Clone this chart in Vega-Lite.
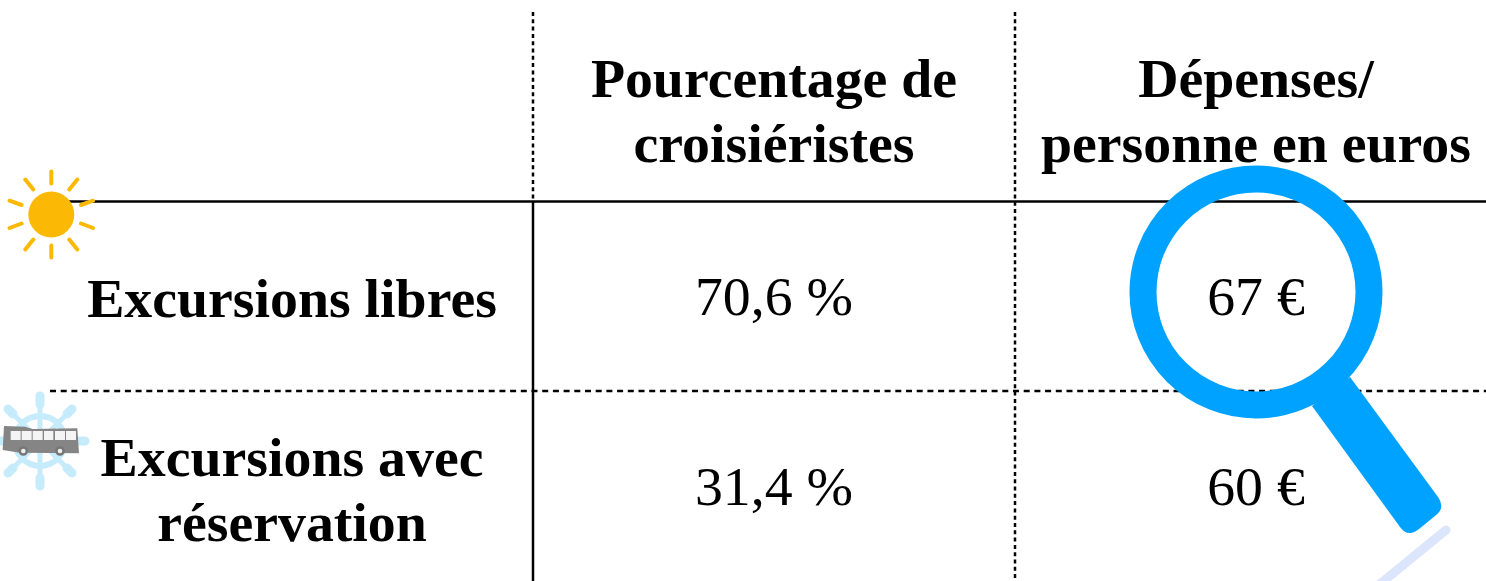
{"$schema":"https://vega.github.io/schema/vega-lite/v6.json","autosize":{"type":"none"},"width":1486,"height":581,"padding":0,"background":"white","config":{"view":{"stroke":null}},"resolve":{"scale":{"x":"independent","y":"independent"}},"datasets":{"table":[{"ligne":"Excursions libres","colonne":"Pourcentage de croisiéristes","valeur":"70,6 %"},{"ligne":"Excursions libres","colonne":"Dépenses/personne en euros","valeur":"67 €"},{"ligne":"Excursions avec réservation","colonne":"Pourcentage de croisiéristes","valeur":"31,4 %"},{"ligne":"Excursions avec réservation","colonne":"Dépenses/personne en euros","valeur":"60 €"}],"titres":[{"ligne":"En-tête","colonne":"Pourcentage de croisiéristes","titre":"Pourcentage de\ncroisiéristes"},{"ligne":"En-tête","colonne":"Dépenses/personne en euros","titre":"Dépenses/\npersonne en euros"},{"ligne":"Excursions avec réservation","colonne":"Libellé","titre":"Excursions avec\nréservation"}],"titre_simple":[{"ligne":"Excursions libres","colonne":"Libellé","titre":"Excursions libres"}],"decor":[{"element":"decor"}]},"data":{"name":"decor"},"layer":[
{"mark":{"type":"rule","stroke":"#000000","strokeWidth":2.5},"encoding":{"x":{"datum":60,"type":"quantitative","axis":null,"scale":{"domain":[0,1486],"nice":false,"zero":false}},"x2":{"datum":1486},"y":{"datum":201.5,"type":"quantitative","axis":null,"scale":{"domain":[0,581],"reverse":true,"nice":false,"zero":false}}}},
{"mark":{"type":"rule","stroke":"#000000","strokeWidth":2.5,"strokeDash":[6,4.7]},"encoding":{"x":{"datum":50,"type":"quantitative","axis":null,"scale":{"domain":[0,1486],"nice":false,"zero":false}},"x2":{"datum":1486},"y":{"datum":391,"type":"quantitative","axis":null,"scale":{"domain":[0,581],"reverse":true,"nice":false,"zero":false}}}},
{"mark":{"type":"rule","stroke":"#000000","strokeWidth":2.5,"strokeDash":[4,3.3]},"encoding":{"x":{"datum":533,"type":"quantitative","axis":null,"scale":{"domain":[0,1486],"nice":false,"zero":false}},"y":{"datum":12,"type":"quantitative","axis":null,"scale":{"domain":[0,581],"reverse":true,"nice":false,"zero":false}},"y2":{"datum":201}}},
{"mark":{"type":"rule","stroke":"#000000","strokeWidth":2.5},"encoding":{"x":{"datum":533,"type":"quantitative","axis":null,"scale":{"domain":[0,1486],"nice":false,"zero":false}},"y":{"datum":201,"type":"quantitative","axis":null,"scale":{"domain":[0,581],"reverse":true,"nice":false,"zero":false}},"y2":{"datum":581}}},
{"mark":{"type":"rule","stroke":"#000000","strokeWidth":2.5,"strokeDash":[4,3.3]},"encoding":{"x":{"datum":1015,"type":"quantitative","axis":null,"scale":{"domain":[0,1486],"nice":false,"zero":false}},"y":{"datum":12,"type":"quantitative","axis":null,"scale":{"domain":[0,581],"reverse":true,"nice":false,"zero":false}},"y2":{"datum":581}}},
{"mark":{"type":"rule","stroke":"#dbe5fb","strokeWidth":9,"strokeCap":"round"},"encoding":{"x":{"datum":1446,"type":"quantitative","axis":null,"scale":{"domain":[0,1486],"nice":false,"zero":false}},"x2":{"datum":1380},"y":{"datum":530,"type":"quantitative","axis":null,"scale":{"domain":[0,581],"reverse":true,"nice":false,"zero":false}},"y2":{"datum":584}}},
{"mark":{"type":"point","filled":false,"shape":"circle","stroke":"#00a2ff","strokeWidth":27,"size":51076,"opacity":1},"encoding":{"x":{"datum":1256,"type":"quantitative","axis":null,"scale":{"domain":[0,1486],"nice":false,"zero":false}},"y":{"datum":292,"type":"quantitative","axis":null,"scale":{"domain":[0,581],"reverse":true,"nice":false,"zero":false}}}},
{"mark":{"type":"point","filled":true,"shape":"M-28,-78L60,42Q68,53 57,61L41,74Q30,83 22,72L-66,-49Z","fill":"#00a2ff","size":4,"opacity":1},"encoding":{"x":{"datum":1378,"type":"quantitative","axis":null,"scale":{"domain":[0,1486],"nice":false,"zero":false}},"y":{"datum":455,"type":"quantitative","axis":null,"scale":{"domain":[0,581],"reverse":true,"nice":false,"zero":false}}}},
{"mark":{"type":"point","filled":false,"shape":"circle","stroke":"#c6ebfb","strokeWidth":6,"size":2500,"opacity":1},"encoding":{"x":{"datum":40,"type":"quantitative","axis":null,"scale":{"domain":[0,1486],"nice":false,"zero":false}},"y":{"datum":441,"type":"quantitative","axis":null,"scale":{"domain":[0,581],"reverse":true,"nice":false,"zero":false}}}},
{"mark":{"type":"point","filled":false,"shape":"M0,-46L0,46M-46,0L46,0M-33,-33L33,33M-33,33L33,-33","stroke":"#c6ebfb","strokeWidth":5,"strokeCap":"round","size":4,"opacity":1},"encoding":{"x":{"datum":40,"type":"quantitative","axis":null,"scale":{"domain":[0,1486],"nice":false,"zero":false}},"y":{"datum":441,"type":"quantitative","axis":null,"scale":{"domain":[0,581],"reverse":true,"nice":false,"zero":false}}}},
{"mark":{"type":"point","filled":false,"shape":"M0,-45L0,-37M0,45L0,37M-45,0L-37,0M45,0L37,0M-32,-32L-27,-27M32,32L27,27M-32,32L-27,27M32,-32L27,-27","stroke":"#c6ebfb","strokeWidth":9,"strokeCap":"round","size":4,"opacity":1},"encoding":{"x":{"datum":40,"type":"quantitative","axis":null,"scale":{"domain":[0,1486],"nice":false,"zero":false}},"y":{"datum":441,"type":"quantitative","axis":null,"scale":{"domain":[0,581],"reverse":true,"nice":false,"zero":false}}}},
{"mark":{"type":"point","filled":true,"shape":"M-108,-42L-45,-40L-22,-33L112,-35L117,40L-60,38L-112,30Z","fill":"#858585","size":0.4444,"opacity":1},"encoding":{"x":{"datum":40,"type":"quantitative","axis":null,"scale":{"domain":[0,1486],"nice":false,"zero":false}},"y":{"datum":440,"type":"quantitative","axis":null,"scale":{"domain":[0,581],"reverse":true,"nice":false,"zero":false}}}},
{"mark":{"type":"point","filled":true,"shape":"M-88,-27H-58V0H-88ZM-55,-27H-25V0H-55ZM-22,-27H8V0H-22ZM12,-27H40V0H12ZM45,-27H75V0H45ZM78,-27H108V0H78Z","fill":"#f4f4f4","size":0.4444,"opacity":1},"encoding":{"x":{"datum":40,"type":"quantitative","axis":null,"scale":{"domain":[0,1486],"nice":false,"zero":false}},"y":{"datum":440,"type":"quantitative","axis":null,"scale":{"domain":[0,581],"reverse":true,"nice":false,"zero":false}}}},
{"mark":{"type":"point","filled":true,"shape":"circle","fill":"#eeeeee","stroke":"#777777","strokeWidth":2.5,"size":50,"opacity":1},"encoding":{"x":{"datum":23.3,"type":"quantitative","axis":null,"scale":{"domain":[0,1486],"nice":false,"zero":false}},"y":{"datum":451,"type":"quantitative","axis":null,"scale":{"domain":[0,581],"reverse":true,"nice":false,"zero":false}}}},
{"mark":{"type":"point","filled":true,"shape":"circle","fill":"#eeeeee","stroke":"#777777","strokeWidth":2.5,"size":50,"opacity":1},"encoding":{"x":{"datum":60,"type":"quantitative","axis":null,"scale":{"domain":[0,1486],"nice":false,"zero":false}},"y":{"datum":451,"type":"quantitative","axis":null,"scale":{"domain":[0,581],"reverse":true,"nice":false,"zero":false}}}},
{"mark":{"type":"point","filled":true,"shape":"circle","fill":"#fbb906","size":2116,"opacity":1},"encoding":{"x":{"datum":51.3,"type":"quantitative","axis":null,"scale":{"domain":[0,1486],"nice":false,"zero":false}},"y":{"datum":214.5,"type":"quantitative","axis":null,"scale":{"domain":[0,581],"reverse":true,"nice":false,"zero":false}}}},
{"mark":{"type":"point","filled":false,"shape":"M0,-43L0,-31M0,31L0,43M26,-35L18,-25M18,25L26,35M-26,-35L-18,-25M-18,25L-26,35M29.7,-9.5L41.7,-13.8M29.7,9L41.7,13.5M-29.7,-9.5L-41.7,-13.8M-29.7,9L-41.7,13.5","stroke":"#fbb906","strokeWidth":4,"strokeCap":"round","size":4,"opacity":1},"encoding":{"x":{"datum":51.3,"type":"quantitative","axis":null,"scale":{"domain":[0,1486],"nice":false,"zero":false}},"y":{"datum":214.5,"type":"quantitative","axis":null,"scale":{"domain":[0,581],"reverse":true,"nice":false,"zero":false}}}},
{"data":{"name":"titres"},"mark":{"type":"text","font":"Liberation Serif","fontWeight":"bold","fontSize":55.8,"lineHeight":65,"lineBreak":"\n","baseline":"middle","align":"center","dy":-31,"color":"#000000"},"encoding":{"x":{"field":"colonne","type":"nominal","axis":null,"scale":{"type":"point","padding":0,"domain":["Libellé","Pourcentage de croisiéristes","Dépenses/personne en euros"],"range":[292,1256]}},"y":{"field":"ligne","type":"nominal","axis":null,"scale":{"type":"point","padding":0,"domain":["En-tête","Excursions libres","Excursions avec réservation"],"range":[111,490]}},"text":{"field":"titre","type":"nominal"}}},
{"data":{"name":"titre_simple"},"mark":{"type":"text","font":"Liberation Serif","fontWeight":"bold","fontSize":55.8,"baseline":"middle","align":"center","color":"#000000"},"encoding":{"x":{"field":"colonne","type":"nominal","axis":null,"scale":{"type":"point","padding":0,"domain":["Libellé","Pourcentage de croisiéristes","Dépenses/personne en euros"],"range":[292,1256]}},"y":{"field":"ligne","type":"nominal","axis":null,"scale":{"type":"point","padding":0,"domain":["En-tête","Excursions libres","Excursions avec réservation"],"range":[110,490]}},"text":{"field":"titre","type":"nominal"}}},
{"data":{"name":"table"},"mark":{"type":"text","font":"Liberation Serif","fontSize":55.8,"baseline":"middle","align":"center","color":"#000000"},"encoding":{"x":{"field":"colonne","type":"nominal","axis":null,"scale":{"type":"point","padding":0,"domain":["Libellé","Pourcentage de croisiéristes","Dépenses/personne en euros"],"range":[292,1256]}},"y":{"field":"ligne","type":"nominal","axis":null,"scale":{"type":"point","padding":0,"domain":["En-tête","Excursions libres","Excursions avec réservation"],"range":[108,488]}},"text":{"field":"valeur","type":"nominal"}}}
]}
